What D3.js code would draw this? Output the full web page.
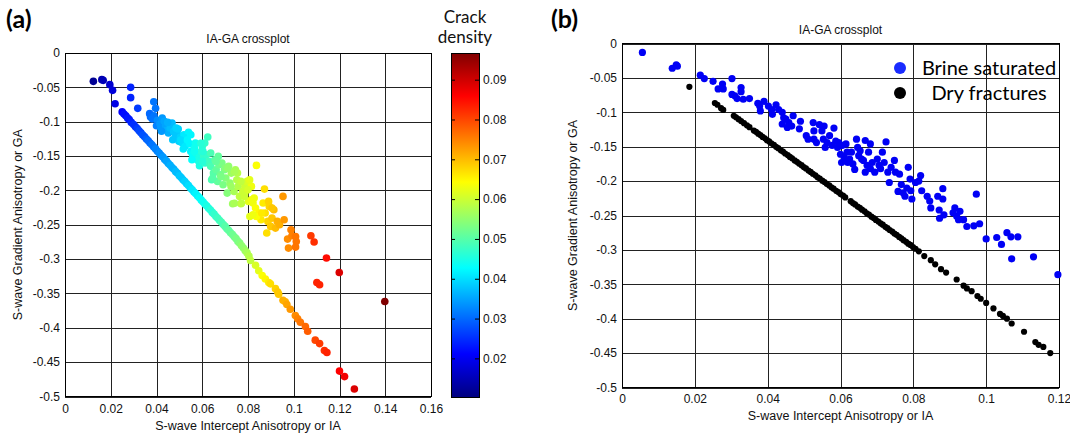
<!DOCTYPE html>
<html>
<head>
<meta charset="utf-8">
<script src="https://cdn.jsdelivr.net/npm/d3@7"></script>
<style>
  body { margin: 0; background: #fff; }
  text { font-family: "Liberation Sans", Arial, sans-serif; }
</style>
</head>
<body>
<svg id="chart" width="1070" height="433"></svg>
<script>
// ---- data ----
// panel (a): [IA, GA, crack density]
const aBrine = [
  [0.0124,-0.0413,0.012],[0.0161,-0.0388,0.014],[0.0167,-0.0398,0.015],[0.0196,-0.0461,0.017],
  [0.0208,-0.0544,0.018],[0.0219,-0.0738,0.019],[0.0287,-0.0500,0.024],[0.0287,-0.0650,0.024],
  [0.0318,-0.0806,0.026],[0.0388,-0.0710,0.031],[0.0396,-0.0806,0.031],[0.0370,-0.0883,0.030],
  [0.0374,-0.0932,0.030],[0.0389,-0.0913,0.031],[0.0382,-0.0961,0.031],[0.0404,-0.0980,0.033],
  [0.0400,-0.1058,0.032],[0.0415,-0.1029,0.034],[0.0419,-0.1092,0.034],[0.0425,-0.0947,0.034],
  [0.0434,-0.0995,0.035],[0.0440,-0.1058,0.035],[0.0445,-0.1126,0.036],[0.0452,-0.1165,0.036],
  [0.0460,-0.1092,0.037],[0.0468,-0.1019,0.037],[0.0475,-0.1141,0.038],[0.0483,-0.1214,0.038],
  [0.0490,-0.1165,0.038],[0.0495,-0.1107,0.039],[0.0498,-0.1286,0.039],[0.0505,-0.1223,0.039],
  [0.0513,-0.1311,0.040],[0.0520,-0.1189,0.041],[0.0525,-0.1359,0.041],[0.0532,-0.1262,0.041],
  [0.0540,-0.1155,0.042],[0.0546,-0.1320,0.042],[0.0550,-0.1432,0.042],[0.0558,-0.1480,0.043],
  [0.0566,-0.1383,0.044],[0.0573,-0.1505,0.044],[0.0581,-0.1563,0.045],[0.0585,-0.1466,0.045],
  [0.0588,-0.1641,0.045],[0.0596,-0.1432,0.046],[0.0600,-0.1359,0.046],[0.0606,-0.1505,0.047],
  [0.0612,-0.1602,0.047],[0.0618,-0.1480,0.047],[0.0624,-0.1223,0.048],[0.0629,-0.1578,0.048],
  [0.0637,-0.1650,0.049],[0.0641,-0.1845,0.049],[0.0649,-0.1748,0.050],[0.0655,-0.1553,0.050],
  [0.0661,-0.1699,0.051],[0.0667,-0.1869,0.051],[0.0673,-0.1626,0.052],[0.0679,-0.1772,0.052],
  [0.0686,-0.1602,0.053],[0.0691,-0.1917,0.053],[0.0697,-0.1699,0.053],[0.0703,-0.1820,0.054],
  [0.0709,-0.2039,0.054],[0.0715,-0.1650,0.055],[0.0721,-0.1893,0.055],[0.0727,-0.1748,0.056],
  [0.0733,-0.2194,0.056],[0.0739,-0.2015,0.057],[0.0745,-0.1699,0.057],[0.0751,-0.1845,0.058],
  [0.0757,-0.1942,0.058],[0.0763,-0.2087,0.059],[0.0769,-0.2194,0.059],[0.0777,-0.2015,0.060],
  [0.0787,-0.1942,0.060],[0.0796,-0.1869,0.061],[0.0802,-0.2160,0.062],[0.0808,-0.2379,0.062],
  [0.0815,-0.1942,0.063],[0.0822,-0.2184,0.063],[0.0827,-0.2112,0.063],[0.0837,-0.1636,0.064],
  [0.0833,-0.2257,0.064],[0.0848,-0.2330,0.065],[0.0857,-0.2427,0.066],[0.0866,-0.2184,0.066],
  [0.0872,-0.1981,0.067],[0.0875,-0.2330,0.067],[0.0882,-0.2621,0.067],[0.0887,-0.2451,0.068],
  [0.0893,-0.2233,0.068],[0.0899,-0.2524,0.069],[0.0905,-0.2403,0.069],[0.0913,-0.2281,0.070],
  [0.0920,-0.2549,0.070],[0.0928,-0.2451,0.071],[0.0938,-0.2500,0.071],[0.0953,-0.2087,0.073],
  [0.0958,-0.2427,0.073],[0.0973,-0.2709,0.074],[0.0977,-0.2840,0.074],[0.0988,-0.2573,0.075],
  [0.0992,-0.2660,0.075],[0.1008,-0.2670,0.076],[0.1011,-0.2743,0.076],[0.1008,-0.2825,0.076],
  [0.1075,-0.2660,0.081],[0.1089,-0.2752,0.082],[0.1143,-0.2985,0.085],[0.1199,-0.3194,0.089],
  [0.1101,-0.3340,0.083],[0.1113,-0.3374,0.083],[0.1398,-0.3617,0.097],
  [0.0422,-0.1140,0.034],[0.0449,-0.1010,0.036],[0.0471,-0.1262,0.038],[0.0486,-0.1092,0.039],
  [0.0528,-0.1238,0.041],[0.0517,-0.1398,0.041],[0.0570,-0.1311,0.044],[0.0603,-0.1432,0.046],
  [0.0611,-0.1311,0.047],[0.0555,-0.1553,0.043],[0.0637,-0.1456,0.049],[0.0670,-0.1505,0.051],
  [0.0701,-0.1675,0.054],[0.0754,-0.1748,0.058],[0.0769,-0.1869,0.059],[0.0784,-0.2087,0.060],
  [0.0837,-0.2379,0.064],[0.0860,-0.2330,0.066],[0.0890,-0.2160,0.068],[0.0905,-0.2257,0.069],
  [0.0506,-0.1266,0.040],[0.0535,-0.1266,0.042],[0.0550,-0.1190,0.042],[0.0565,-0.1435,0.044],
  [0.0594,-0.1315,0.046],[0.0601,-0.1580,0.046],[0.0660,-0.1580,0.051],[0.0646,-0.1820,0.050],
  [0.0682,-0.1800,0.053],[0.0712,-0.1677,0.055],[0.0741,-0.1726,0.057],[0.0726,-0.1944,0.056],
  [0.0741,-0.2186,0.057],[0.0771,-0.2186,0.059],[0.0785,-0.2065,0.060],[0.0807,-0.1847,0.062],
  [0.0800,-0.1992,0.061],[0.0815,-0.2137,0.063],[0.0822,-0.2355,0.063]
];
const aDry = [
  [0.0250,-0.0857,0.021],[0.0258,-0.0889,0.022],[0.0266,-0.0914,0.022],[0.0274,-0.0948,0.023],
  [0.0281,-0.0970,0.023],[0.0290,-0.1010,0.024],[0.0300,-0.1040,0.025],[0.0308,-0.1075,0.025],
  [0.0316,-0.1099,0.026],[0.0324,-0.1133,0.027],[0.0332,-0.1160,0.027],[0.0340,-0.1193,0.028],
  [0.0348,-0.1218,0.028],[0.0356,-0.1252,0.029],[0.0364,-0.1277,0.030],[0.0372,-0.1311,0.030],
  [0.0380,-0.1337,0.031],[0.0388,-0.1370,0.031],[0.0396,-0.1396,0.032],[0.0404,-0.1430,0.032],
  [0.0412,-0.1456,0.033],[0.0420,-0.1489,0.033],[0.0428,-0.1515,0.034],[0.0436,-0.1549,0.034],
  [0.0444,-0.1574,0.035],[0.0452,-0.1608,0.035],[0.0460,-0.1634,0.036],[0.0468,-0.1667,0.036],
  [0.0476,-0.1693,0.036],[0.0484,-0.1727,0.037],[0.0492,-0.1752,0.037],[0.0500,-0.1786,0.038],
  [0.0508,-0.1812,0.038],[0.0516,-0.1845,0.038],[0.0524,-0.1871,0.039],[0.0532,-0.1905,0.039],
  [0.0540,-0.1930,0.040],[0.0548,-0.1964,0.040],[0.0556,-0.1990,0.041],[0.0564,-0.2023,0.041],
  [0.0572,-0.2049,0.042],[0.0580,-0.2083,0.042],[0.0588,-0.2108,0.043],[0.0596,-0.2142,0.043],
  [0.0604,-0.2168,0.044],[0.0612,-0.2202,0.044],[0.0620,-0.2227,0.045],[0.0628,-0.2261,0.045],
  [0.0636,-0.2287,0.046],[0.0644,-0.2320,0.046],[0.0652,-0.2346,0.047],[0.0660,-0.2380,0.047],
  [0.0668,-0.2405,0.048],[0.0676,-0.2439,0.048],[0.0684,-0.2465,0.049],[0.0692,-0.2498,0.049],
  [0.0700,-0.2524,0.050],[0.0708,-0.2558,0.050],[0.0716,-0.2583,0.051],[0.0724,-0.2617,0.051],
  [0.0732,-0.2643,0.052],[0.0740,-0.2676,0.052],[0.0748,-0.2702,0.053],[0.0756,-0.2742,0.053],
  [0.0764,-0.2768,0.054],[0.0772,-0.2807,0.055],[0.0780,-0.2838,0.055],[0.0788,-0.2877,0.056],
  [0.0796,-0.2908,0.057],[0.0804,-0.2957,0.058],[0.0811,-0.3020,0.059],
  [0.0833,-0.3090,0.061],[0.0847,-0.3170,0.062],[0.0862,-0.3240,0.064],[0.0876,-0.3290,0.065],
  [0.0891,-0.3340,0.066],[0.0898,-0.3360,0.067],[0.0920,-0.3430,0.068],[0.0930,-0.3480,0.069],
  [0.0934,-0.3510,0.069],[0.0953,-0.3600,0.071],[0.0963,-0.3620,0.071],[0.0970,-0.3660,0.072],
  [0.0985,-0.3730,0.073],[0.1007,-0.3820,0.074],[0.1017,-0.3870,0.075],[0.1029,-0.3920,0.076],
  [0.1051,-0.3980,0.077],[0.1061,-0.4050,0.078],[0.1094,-0.4180,0.080],[0.1113,-0.4230,0.081],
  [0.1134,-0.4330,0.082],[0.1145,-0.4360,0.083],[0.1200,-0.4630,0.086],[0.1222,-0.4710,0.087],
  [0.1265,-0.4890,0.089]
];

// panel (b): [IA, GA]
const bBrine = [
  [0.0056,-0.013],[0.0138,-0.036],[0.0149,-0.031],[0.0152,-0.033],[0.0215,-0.046],[0.0226,-0.051],
  [0.0250,-0.055],[0.0264,-0.066],[0.0276,-0.059],[0.0278,-0.066],[0.0302,-0.051],[0.0302,-0.074],
  [0.0310,-0.076],[0.0316,-0.080],[0.0327,-0.064],[0.0327,-0.070],[0.0333,-0.081],[0.0350,-0.080],
  [0.0373,-0.087],[0.0378,-0.091],[0.0380,-0.098],[0.0390,-0.084],[0.0402,-0.091],[0.0411,-0.096],
  [0.0413,-0.103],[0.0423,-0.089],[0.0430,-0.096],[0.0440,-0.100],[0.0444,-0.108],[0.0440,-0.117],
  [0.0450,-0.110],[0.0454,-0.122],[0.0458,-0.115],[0.0470,-0.105],[0.0466,-0.120],[0.0490,-0.113],
  [0.0487,-0.124],[0.0506,-0.134],[0.0511,-0.139],[0.0525,-0.115],[0.0527,-0.127],[0.0527,-0.139],
  [0.0534,-0.144],[0.0542,-0.118],[0.0549,-0.127],[0.0553,-0.139],[0.0555,-0.120],[0.0558,-0.151],
  [0.0563,-0.144],[0.0570,-0.134],[0.0577,-0.148],[0.0582,-0.123],[0.0587,-0.142],[0.0592,-0.151],
  [0.0595,-0.144],[0.0600,-0.161],[0.0603,-0.173],[0.0605,-0.148],[0.0610,-0.166],[0.0615,-0.146],
  [0.0618,-0.158],[0.0620,-0.173],[0.0625,-0.168],[0.0630,-0.158],[0.0634,-0.175],[0.0639,-0.183],
  [0.0644,-0.139],[0.0647,-0.151],[0.0650,-0.163],[0.0654,-0.156],[0.0658,-0.168],[0.0663,-0.170],
  [0.0668,-0.141],[0.0668,-0.187],[0.0673,-0.177],[0.0677,-0.158],[0.0682,-0.146],[0.0682,-0.182],
  [0.0687,-0.173],[0.0694,-0.187],[0.0701,-0.168],[0.0706,-0.177],[0.0710,-0.182],[0.0715,-0.158],
  [0.0720,-0.173],[0.0725,-0.143],[0.0730,-0.187],[0.0734,-0.202],[0.0739,-0.180],[0.0748,-0.170],
  [0.0751,-0.187],[0.0758,-0.215],[0.0762,-0.190],[0.0767,-0.205],[0.0772,-0.217],[0.0777,-0.222],
  [0.0782,-0.210],[0.0786,-0.180],[0.0791,-0.197],[0.0793,-0.214],[0.0796,-0.226],[0.0806,-0.202],
  [0.0815,-0.200],[0.0820,-0.192],[0.0823,-0.214],[0.0838,-0.222],[0.0845,-0.229],[0.0848,-0.239],
  [0.0867,-0.222],[0.0871,-0.242],[0.0872,-0.254],[0.0881,-0.211],[0.0881,-0.226],[0.0884,-0.249],
  [0.0909,-0.246],[0.0914,-0.239],[0.0919,-0.251],[0.0924,-0.256],[0.0928,-0.244],[0.0938,-0.256],
  [0.0947,-0.266],[0.0966,-0.265],[0.0973,-0.219],[0.0982,-0.262],[0.1000,-0.284],[0.1029,-0.282],
  [0.1042,-0.292],[0.1057,-0.275],[0.1068,-0.281],[0.1070,-0.313],[0.1087,-0.281],[0.1130,-0.310],
  [0.1197,-0.336]
];
const bDry = [
  [0.0185,-0.0630],[0.0255,-0.0865],[0.0262,-0.0890],[0.0272,-0.0940],[0.0278,-0.0965],
  [0.0307,-0.1050],[0.0313,-0.1072],[0.0320,-0.1100],[0.0327,-0.1127],[0.0335,-0.1158],
  [0.0343,-0.1189],[0.0350,-0.1216],
  [0.0362,-0.1265],[0.0368,-0.1284],[0.0374,-0.1311],[0.0380,-0.1331],[0.0386,-0.1358],
  [0.0392,-0.1377],[0.0398,-0.1405],[0.0404,-0.1424],[0.0410,-0.1451],[0.0417,-0.1474],
  [0.0423,-0.1502],[0.0429,-0.1521],[0.0436,-0.1552],[0.0442,-0.1571],[0.0448,-0.1599],
  [0.0455,-0.1622],[0.0461,-0.1649],[0.0467,-0.1668],[0.0474,-0.1699],[0.0480,-0.1719],
  [0.0486,-0.1746],[0.0493,-0.1769],[0.0499,-0.1796],[0.0505,-0.1816],[0.0512,-0.1847],
  [0.0518,-0.1866],[0.0524,-0.1893],[0.0531,-0.1916],[0.0537,-0.1944],[0.0543,-0.1963],
  [0.0550,-0.1994],[0.0556,-0.2013],[0.0562,-0.2040],[0.0569,-0.2063],[0.0575,-0.2091],
  [0.0581,-0.2110],[0.0588,-0.2141],[0.0594,-0.2160],[0.0600,-0.2188],[0.0607,-0.2211],
  [0.0613,-0.2238],[0.0628,-0.2292],[0.0634,-0.2320],[0.0640,-0.2339],[0.0647,-0.2370],
  [0.0653,-0.2389],[0.0659,-0.2416],[0.0666,-0.2440],[0.0672,-0.2467],[0.0678,-0.2486],
  [0.0685,-0.2517],[0.0691,-0.2536],[0.0697,-0.2564],[0.0704,-0.2587],[0.0710,-0.2614],
  [0.0716,-0.2633],[0.0723,-0.2665],[0.0729,-0.2684],[0.0735,-0.2711],[0.0742,-0.2734],
  [0.0748,-0.2762],[0.0754,-0.2781],[0.0761,-0.2812],[0.0767,-0.2831],[0.0773,-0.2858],
  [0.0780,-0.2882],[0.0786,-0.2909],[0.0792,-0.2928],[0.0799,-0.2959],[0.0806,-0.2983],
  [0.0815,-0.3020],
  [0.0830,-0.3090],[0.0848,-0.3150],[0.0860,-0.3210],[0.0876,-0.3280],[0.0890,-0.3330],
  [0.0919,-0.3430],[0.0938,-0.3520],[0.0947,-0.3560],[0.0960,-0.3600],[0.0976,-0.3670],
  [0.0985,-0.3710],[0.1000,-0.3770],[0.1020,-0.3850],[0.1038,-0.3930],[0.1046,-0.3960],
  [0.1057,-0.4000],[0.1070,-0.4070],[0.1104,-0.4190],[0.1135,-0.4340],[0.1144,-0.4380],
  [0.1157,-0.4410],[0.1176,-0.4500]
];

const aXTicks = [0, 0.02, 0.04, 0.06, 0.08, 0.1, 0.12, 0.14, 0.16];
const bXTicks = [0, 0.02, 0.04, 0.06, 0.08, 0.1, 0.12];
const yTicks = [0, -0.05, -0.1, -0.15, -0.2, -0.25, -0.3, -0.35, -0.4, -0.45, -0.5];
const cbTicks = [0.02, 0.03, 0.04, 0.05, 0.06, 0.07, 0.08, 0.09];
const cdRange = [0.0103, 0.0967];
const legendLabels = ['Brine saturated', 'Dry fractures'];

// ---- jet colour map ----
const jetStops = [0, 0.125, 0.375, 0.625, 0.875, 1];
const jetColors = ['#000080', '#0000ff', '#00ffff', '#ffff00', '#ff0000', '#800000'];
const color = d3.scaleLinear()
  .domain(jetStops.map(t => cdRange[0] + t * (cdRange[1] - cdRange[0])))
  .range(jetColors)
  .clamp(true);

const svg = d3.select('#chart');
svg.append('rect').attr('width', 1070).attr('height', 433).attr('fill', '#fff');

const fmt = d => String(+d.toFixed(3));

function panel(p) {
  const x = d3.scaleLinear().domain(p.xDomain).range([p.left, p.right]);
  const y = d3.scaleLinear().domain([-0.5, 0]).range([p.bottom, p.top]);
  const w = p.right - p.left, h = p.bottom - p.top;

  const gx = svg.append('g')
    .attr('transform', `translate(0,${p.bottom})`)
    .call(d3.axisBottom(x).tickValues(p.xTicks).tickSize(-h).tickPadding(p.xPad).tickFormat(fmt));
  const gy = svg.append('g')
    .attr('transform', `translate(${p.left},0)`)
    .call(d3.axisLeft(y).tickValues(yTicks).tickSize(-w).tickPadding(5).tickFormat(fmt));
  [gx, gy].forEach(g => {
    g.select('.domain').remove();
    g.attr('font-family', '"Liberation Sans", Arial, sans-serif').attr('font-size', 12);
    g.selectAll('.tick line').attr('stroke', '#222').attr('shape-rendering', 'crispEdges');
    g.selectAll('.tick text').attr('fill', '#111');
  });

  svg.append('rect')
    .attr('x', p.left).attr('y', p.top).attr('width', w).attr('height', h)
    .attr('fill', 'none').attr('stroke', '#000').attr('shape-rendering', 'crispEdges');

  svg.append('text')
    .attr('x', (p.left + p.right) / 2).attr('y', p.titleY)
    .attr('text-anchor', 'middle').attr('font-size', 12).attr('fill', '#111')
    .text('IA-GA crossplot');
  svg.append('text')
    .attr('x', (p.left + p.right) / 2).attr('y', p.xLabelY)
    .attr('text-anchor', 'middle').attr('font-size', 12.5).attr('fill', '#111')
    .text('S-wave Intercept Anisotropy or IA');
  svg.append('text')
    .attr('transform', `translate(${p.yLabelX},${(p.top + p.bottom) / 2}) rotate(-90)`)
    .attr('text-anchor', 'middle').attr('dy', '0.35em').attr('font-size', 12.5).attr('fill', '#111')
    .text('S-wave Gradient Anisotropy or GA');
  svg.append('text')
    .attr('x', p.tagX).attr('y', 28)
    .style('font-family', 'Lato, "Open Sans", sans-serif')
    .attr('font-weight', 'bold').attr('font-size', 25).attr('fill', '#000')
    .text(p.tag);
  return { x, y };
}

// ---- panel (a) ----
const A = panel({ left: 65, right: 431, top: 53, bottom: 396.5, xDomain: [0, 0.16], xTicks: aXTicks,
  xPad: 8, titleY: 43, xLabelY: 430, yLabelX: 18, tag: '(a)', tagX: 6 });

svg.append('g').selectAll('circle')
  .data(aDry.concat(aBrine))
  .join('circle')
  .attr('cx', d => A.x(d[0])).attr('cy', d => A.y(d[1]))
  .attr('r', 3.8)
  .attr('fill', d => color(d[2]));

// colour bar
const cb = { left: 451, right: 479, top: 53, bottom: 397 };
const cbScale = d3.scaleLinear().domain(cdRange).range([cb.bottom, cb.top]);
const grad = svg.append('defs').append('linearGradient')
  .attr('id', 'jet').attr('x1', 0).attr('y1', 1).attr('x2', 0).attr('y2', 0);
grad.selectAll('stop')
  .data(jetStops)
  .join('stop')
  .attr('offset', d => d)
  .attr('stop-color', (d, i) => jetColors[i]);
svg.append('rect')
  .attr('x', cb.left).attr('y', cb.top).attr('width', cb.right - cb.left).attr('height', cb.bottom - cb.top)
  .attr('fill', 'url(#jet)').attr('stroke', '#000').attr('shape-rendering', 'crispEdges');
const cbAxis = svg.append('g')
  .attr('transform', `translate(${cb.right},0)`)
  .call(d3.axisRight(cbScale).tickValues(cbTicks).tickSize(-4).tickPadding(4).tickFormat(fmt));
cbAxis.select('.domain').remove();
cbAxis.attr('font-family', '"Liberation Sans", Arial, sans-serif').attr('font-size', 12);
cbAxis.selectAll('.tick text').attr('fill', '#111');
svg.append('g').attr('transform', `translate(${cb.left},0)`)
  .call(d3.axisRight(cbScale).tickValues(cbTicks).tickSize(4).tickFormat(''))
  .select('.domain').remove();

svg.selectAll('text.cbtitle')
  .data(['Crack', 'density'])
  .join('text')
  .attr('class', 'cbtitle')
  .attr('x', (cb.left + cb.right) / 2).attr('y', (d, i) => 23 + i * 20)
  .attr('text-anchor', 'middle')
  .style('font-family', 'Lato, "Open Sans", sans-serif')
  .attr('font-size', 17).attr('fill', '#111')
  .text(d => d);

// ---- panel (b) ----
const B = panel({ left: 622, right: 1059, top: 43.5, bottom: 387.5, xDomain: [0, 0.12], xTicks: bXTicks,
  xPad: 6.5, titleY: 34, xLabelY: 420, yLabelX: 573, tag: '(b)', tagX: 551 });

svg.append('g').selectAll('circle')
  .data(bDry)
  .join('circle')
  .attr('cx', d => B.x(d[0])).attr('cy', d => B.y(d[1]))
  .attr('r', 3.1).attr('fill', '#000');
svg.append('g').selectAll('circle')
  .data(bBrine)
  .join('circle')
  .attr('cx', d => B.x(d[0])).attr('cy', d => B.y(d[1]))
  .attr('r', 3.6).attr('fill', '#0000f5');

// legend
const legend = svg.append('g').selectAll('g')
  .data(legendLabels)
  .join('g')
  .attr('transform', (d, i) => `translate(0,${68 + i * 25})`);
legend.append('circle')
  .attr('cx', 900).attr('r', 6)
  .attr('fill', (d, i) => i === 0 ? '#1a2cff' : '#000');
legend.append('text')
  .attr('x', 989).attr('y', 6.5)
  .attr('text-anchor', 'middle')
  .style('font-family', 'Lato, "Open Sans", sans-serif')
  .attr('font-size', 20).attr('fill', '#000')
  .text(d => d);
</script>
</body>
</html>
